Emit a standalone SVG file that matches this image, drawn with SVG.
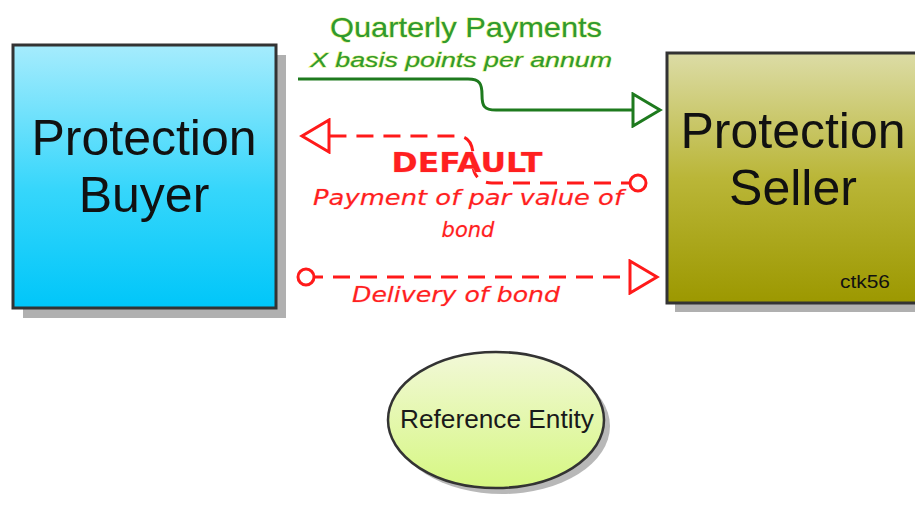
<svg xmlns="http://www.w3.org/2000/svg" width="915" height="508" viewBox="0 0 915 508">
  <style>
    .box { stroke: #333333; stroke-width: 3; }
    .shadow { fill: #b0b0b0; }
    .big { font-family: "Liberation Sans", Arial, sans-serif; font-size: 50px; fill: #111111; text-anchor: middle; }
    .green { font-family: "Liberation Sans", Arial, sans-serif; fill: #2f9a2f; stroke: #e4f07a; stroke-width: 1; paint-order: stroke; text-anchor: middle; }
    .red { font-family: "DejaVu Sans", "Liberation Sans", sans-serif; fill: #ff2020; stroke: #ffc4c4; stroke-width: 0.6; paint-order: stroke; text-anchor: middle; }
    .flow { fill: none; stroke-width: 3; }
    .dash { stroke: #ff1a1a; stroke-dasharray: 17 10; }
  </style>
  <defs>
    <linearGradient id="buyerFill" x1="0" y1="0" x2="0" y2="1">
      <stop offset="0" stop-color="#a6ecfd"/>
      <stop offset="0.55" stop-color="#36d6fb"/>
      <stop offset="1" stop-color="#00c6f9"/>
    </linearGradient>
    <linearGradient id="sellerFill" x1="0" y1="0" x2="0" y2="1">
      <stop offset="0" stop-color="#dcdca6"/>
      <stop offset="0.5" stop-color="#bab638"/>
      <stop offset="1" stop-color="#9c9800"/>
    </linearGradient>
    <linearGradient id="entityFill" x1="0" y1="0" x2="0" y2="1">
      <stop offset="0" stop-color="#f2f8d8"/>
      <stop offset="1" stop-color="#d6f782"/>
    </linearGradient>
    <marker id="openArrowGreen" markerUnits="userSpaceOnUse" markerWidth="32" markerHeight="36" viewBox="-2 -2 32 36" refX="27" refY="16" orient="auto">
      <path d="M0,0 L27,16 L0,32 Z" fill="#ffffff" stroke="#1e7a1e" stroke-width="3" stroke-dasharray="none"/>
    </marker>
    <marker id="openArrowRed" markerUnits="userSpaceOnUse" markerWidth="32" markerHeight="36" viewBox="-2 -2 32 36" refX="27" refY="16" orient="auto">
      <path d="M0,0 L27,16 L0,32 Z" fill="#ffffff" stroke="#ff1a1a" stroke-width="3" stroke-dasharray="none"/>
    </marker>
    <marker id="dotRed" markerUnits="userSpaceOnUse" markerWidth="24" markerHeight="24" viewBox="-12 -12 24 24" refX="0" refY="0" orient="auto">
      <circle r="8" fill="#ffffff" stroke="#ff1a1a" stroke-width="3" stroke-dasharray="none"/>
    </marker>
  </defs>

  <rect width="915" height="508" fill="#ffffff"/>

  <g id="protection-buyer">
    <rect class="shadow" x="23" y="55" width="263" height="263"/>
    <rect class="box" x="13" y="45" width="263" height="263" fill="url(#buyerFill)"/>
    <text class="big" x="144" y="155">Protection</text>
    <text class="big" x="144" y="212">Buyer</text>
  </g>

  <g id="protection-seller">
    <rect class="shadow" x="675" y="61" width="260" height="251"/>
    <rect class="box" x="667" y="53" width="260" height="250" fill="url(#sellerFill)"/>
    <text class="big" x="793" y="148">Protection</text>
    <text class="big" x="793" y="205">Seller</text>
    <text x="865" y="288" font-family="Liberation Sans, Arial, sans-serif" font-size="18" fill="#111111" text-anchor="middle" textLength="50" lengthAdjust="spacingAndGlyphs">ctk56</text>
  </g>

  <g id="reference-entity">
    <ellipse cx="502" cy="426" rx="108" ry="68" fill="#9a9a9a" opacity="0.7"/>
    <ellipse cx="496" cy="420" rx="108" ry="68" fill="url(#entityFill)" stroke="#333333" stroke-width="2.5"/>
    <text x="497" y="428" font-family="Liberation Sans, Arial, sans-serif" font-size="25" fill="#1a1a1a" text-anchor="middle" textLength="194" lengthAdjust="spacingAndGlyphs">Reference Entity</text>
  </g>

  <g id="connectors">
    <path class="flow" stroke="#1e7a1e" d="M298,79 H468 C480,79 482,84 482,95 C482,106 484,110 496,110 H660" marker-end="url(#openArrowGreen)"/>
    <path class="flow dash" d="M638,183 H492 C478,183 472,173 473,161 C474,147 470,136 458,136 H302" marker-start="url(#dotRed)" marker-end="url(#openArrowRed)"/>
    <path class="flow dash" d="M306,277 H657" marker-start="url(#dotRed)" marker-end="url(#openArrowRed)"/>
  </g>

  <g id="labels">
    <text class="green" x="466" y="37" font-size="28" textLength="272" lengthAdjust="spacingAndGlyphs">Quarterly Payments</text>
    <text class="green" x="461" y="67" font-size="20" font-style="italic" textLength="302" lengthAdjust="spacingAndGlyphs">X basis points per annum</text>
    <text class="red" x="467" y="172" font-size="26" font-weight="bold" textLength="151" lengthAdjust="spacingAndGlyphs">DEFAULT</text>
    <text class="red" x="468" y="205" font-size="21" font-style="italic" textLength="310" lengthAdjust="spacingAndGlyphs">Payment of par value of</text>
    <text class="red" x="468" y="237" font-size="21" font-style="italic">bond</text>
    <text class="red" x="456" y="302" font-size="21" font-style="italic" textLength="208" lengthAdjust="spacingAndGlyphs">Delivery of bond</text>
  </g>
</svg>
